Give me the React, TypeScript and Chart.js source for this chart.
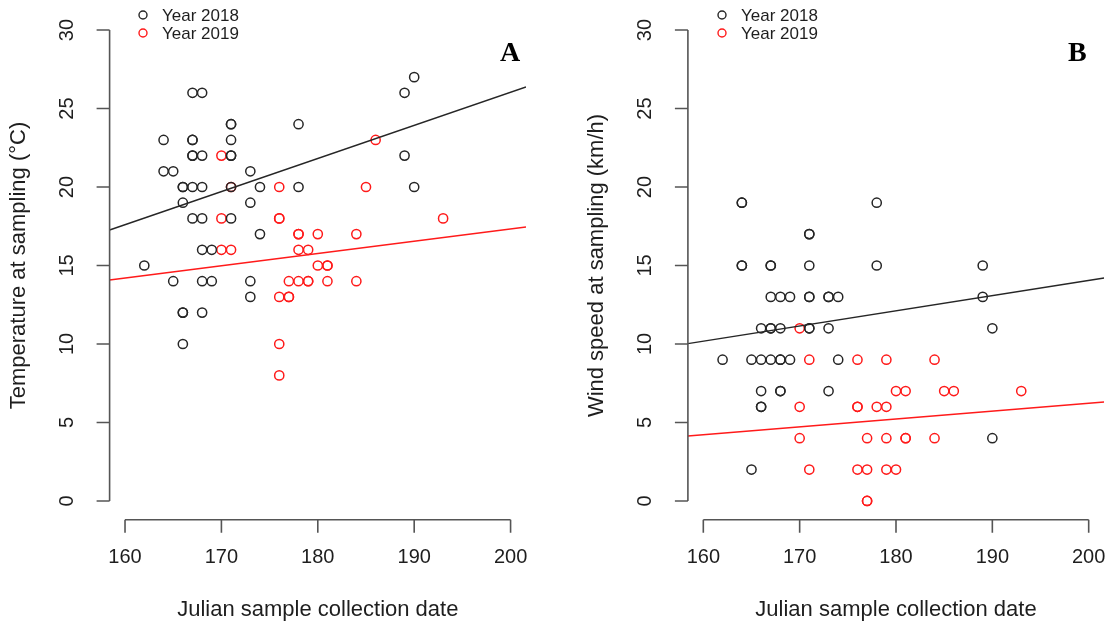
import React, { useEffect, useRef } from "react";
import { Chart, registerables } from "chart.js";
Chart.register(...registerables);

// ---------- data ----------
const xTicks = [160, 170, 180, 190, 200];
const yTicks = [0, 5, 10, 15, 20, 25, 30];
const xRange = [158.4, 201.6];
const yRange = [-1.2, 31.2];
const fitX = [158.4, 201.6];

const tempDays2018 = [190, 167, 168, 189, 171, 171, 178, 164, 167, 167, 171, 167, 167, 168, 171, 171, 189, 164, 165, 173, 166, 166, 167, 168, 171, 174, 178, 190, 166, 173, 167, 168, 171, 174, 168, 169, 162, 165, 168, 169, 173, 173, 166, 166, 168, 166];
const temp2018 = [27, 26, 26, 26, 24, 24, 24, 23, 23, 23, 23, 22, 22, 22, 22, 22, 22, 21, 21, 21, 20, 20, 20, 20, 20, 20, 20, 20, 19, 19, 18, 18, 18, 17, 16, 16, 15, 14, 14, 14, 14, 13, 12, 12, 12, 10];
const tempDays2019 = [186, 170, 171, 176, 185, 170, 176, 176, 193, 178, 178, 180, 184, 170, 171, 178, 179, 180, 181, 181, 177, 178, 179, 179, 181, 184, 176, 177, 177, 176, 176];
const temp2019 = [23, 22, 20, 20, 20, 18, 18, 18, 18, 17, 17, 17, 17, 16, 16, 16, 16, 15, 15, 15, 14, 14, 14, 14, 14, 14, 13, 13, 13, 10, 8];
const tempFit2018 = [17.26, 26.37];
const tempFit2019 = [14.08, 17.45];

const windDays2018 = [164, 164, 178, 171, 171, 164, 164, 167, 167, 171, 178, 189, 167, 168, 169, 171, 171, 173, 173, 174, 189, 166, 167, 167, 168, 171, 171, 173, 190, 162, 165, 166, 167, 168, 168, 169, 174, 166, 168, 168, 173, 166, 166, 190, 165];
const wind2018 = [19, 19, 19, 17, 17, 15, 15, 15, 15, 15, 15, 15, 13, 13, 13, 13, 13, 13, 13, 13, 13, 11, 11, 11, 11, 11, 11, 11, 11, 9, 9, 9, 9, 9, 9, 9, 9, 7, 7, 7, 7, 6, 6, 4, 2];
const windDays2019 = [170, 171, 176, 179, 184, 180, 181, 185, 186, 193, 170, 176, 176, 178, 179, 170, 177, 179, 181, 181, 184, 171, 176, 177, 179, 180, 177, 177];
const wind2019 = [11, 9, 9, 9, 9, 7, 7, 7, 7, 7, 6, 6, 6, 6, 6, 4, 4, 4, 4, 4, 4, 2, 2, 2, 2, 2, 0, 0];
const windFit2018 = [10.02, 14.2];
const windFit2019 = [4.14, 6.3];

const legendLabels = ["Year 2018", "Year 2019"];
const xTitle = "Julian sample collection date";

// ---------- styles ----------
const SANS = "'Liberation Sans', Arial, sans-serif";
const BLACK = "#262626";
const RED = "#ff1a1a";
const AXIS = "#555555";
const TEXT = "#1e1e1e";

const zip = (xs: number[], ys: number[]) => xs.map((x, i) => ({ x, y: ys[i] }));

type PanelProps = {
  left: number;
  width: number;
  padLeft: number;
  padRight: number;
  days2018: number[];
  vals2018: number[];
  days2019: number[];
  vals2019: number[];
  fit2018: number[];
  fit2019: number[];
  yTitle: string;
  letter: string;
  letterX: number;
  legendX: number;
};

function Panel(p: PanelProps) {
  const ref = useRef<HTMLCanvasElement | null>(null);
  useEffect(() => {
    if (!ref.current) return;
    const axesPlugin = {
      id: "rAxes",
      afterDraw(chart: any) {
        const { ctx, chartArea, scales } = chart;
        const xs = scales.x;
        const ys = scales.y;
        ctx.save();
        ctx.strokeStyle = AXIS;
        ctx.lineWidth = 1.6;
        ctx.lineCap = "butt";
        // x axis
        const by = chartArea.bottom;
        const x0 = xs.getPixelForValue(xTicks[0]);
        const x1 = xs.getPixelForValue(xTicks[xTicks.length - 1]);
        ctx.beginPath();
        ctx.moveTo(x0, by);
        ctx.lineTo(x1, by);
        xTicks.forEach((t) => {
          const px = xs.getPixelForValue(t);
          ctx.moveTo(px, by);
          ctx.lineTo(px, by + 13);
        });
        ctx.stroke();
        // y axis
        const lx = chartArea.left;
        const y0 = ys.getPixelForValue(yTicks[0]);
        const y1 = ys.getPixelForValue(yTicks[yTicks.length - 1]);
        ctx.beginPath();
        ctx.moveTo(lx, y0);
        ctx.lineTo(lx, y1);
        yTicks.forEach((t) => {
          const py = ys.getPixelForValue(t);
          ctx.moveTo(lx, py);
          ctx.lineTo(lx - 13, py);
        });
        ctx.stroke();

        ctx.fillStyle = TEXT;
        ctx.font = `20px ${SANS}`;
        ctx.textAlign = "center";
        ctx.textBaseline = "middle";
        xTicks.forEach((t) => {
          ctx.fillText(String(t), xs.getPixelForValue(t), by + 38);
        });
        yTicks.forEach((t) => {
          ctx.save();
          ctx.translate(lx - 42, ys.getPixelForValue(t));
          ctx.rotate(-Math.PI / 2);
          ctx.fillText(String(t), 0, 0);
          ctx.restore();
        });
        // titles
        ctx.font = `22px ${SANS}`;
        ctx.fillText(xTitle, (chartArea.left + chartArea.right) / 2, by + 90);
        ctx.save();
        ctx.translate(lx - 91, (chartArea.top + chartArea.bottom) / 2);
        ctx.rotate(-Math.PI / 2);
        ctx.fillText(p.yTitle, 0, 0);
        ctx.restore();

        // legend
        ctx.font = `17px ${SANS}`;
        ctx.textAlign = "left";
        [BLACK, RED].forEach((c, i) => {
          const cy = 15 + i * 18;
          ctx.beginPath();
          ctx.strokeStyle = c;
          ctx.lineWidth = 1.4;
          ctx.arc(p.legendX, cy, 4, 0, Math.PI * 2);
          ctx.stroke();
          ctx.fillStyle = TEXT;
          ctx.fillText(legendLabels[i], p.legendX + 19, cy + 1);
        });

        // panel letter
        ctx.font = `bold 28px 'Liberation Serif', 'Times New Roman', serif`;
        ctx.textBaseline = "alphabetic";
        ctx.fillStyle = "#000";
        ctx.fillText(p.letter, p.letterX, 61);
        ctx.restore();
      },
    };

    const ptStyle = (c: string) => ({
      showLine: false,
      pointRadius: 4.6,
      pointHoverRadius: 4.6,
      pointBorderWidth: 1.5,
      pointBackgroundColor: "rgba(0,0,0,0)",
      borderColor: c,
      pointBorderColor: c,
      backgroundColor: "rgba(0,0,0,0)",
    });
    const lineStyle = (c: string) => ({
      showLine: true,
      borderColor: c,
      borderWidth: 1.4,
      pointRadius: 0,
      fill: false,
    });

    const chart = new Chart(ref.current, {
      type: "scatter",
      data: {
        datasets: [
          { label: "fit2018", data: zip(fitX, p.fit2018), ...lineStyle(BLACK) },
          { label: "fit2019", data: zip(fitX, p.fit2019), ...lineStyle(RED) },
          { label: legendLabels[0], data: zip(p.days2018, p.vals2018), ...ptStyle(BLACK) },
          { label: legendLabels[1], data: zip(p.days2019, p.vals2019), ...ptStyle(RED) },
        ],
      } as any,
      options: {
        responsive: false,
        animation: false,
        events: [],
        layout: { padding: { left: p.padLeft, right: p.padRight, top: 11.2, bottom: 111.2 } },
        plugins: { legend: { display: false }, tooltip: { enabled: false } },
        scales: {
          x: { type: "linear", min: xRange[0], max: xRange[1], display: false },
          y: { type: "linear", min: yRange[0], max: yRange[1], display: false },
        },
      },
      plugins: [axesPlugin],
    });
    return () => chart.destroy();
  }, []);
  return (
    <canvas
      ref={ref}
      width={p.width}
      height={631}
      style={{ position: "absolute", left: p.left, top: 0, width: p.width, height: 631 }}
    />
  );
}

export default function App() {
  return (
    <div style={{ position: "fixed", left: 0, top: 0, width: 1113, height: 631, background: "#fff", overflow: "hidden" }}>
      <Panel
        left={0}
        width={556}
        padLeft={109.6}
        padRight={30}
        days2018={tempDays2018}
        vals2018={temp2018}
        days2019={tempDays2019}
        vals2019={temp2019}
        fit2018={tempFit2018}
        fit2019={tempFit2019}
        yTitle="Temperature at sampling (°C)"
        letter="A"
        letterX={500}
        legendX={143}
      />
      <Panel
        left={560}
        width={553}
        padLeft={127.9}
        padRight={8.9}
        days2018={windDays2018}
        vals2018={wind2018}
        days2019={windDays2019}
        vals2019={wind2019}
        fit2018={windFit2018}
        fit2019={windFit2019}
        yTitle="Wind speed at sampling (km/h)"
        letter="B"
        letterX={1068 - 560}
        legendX={722 - 560}
      />
    </div>
  );
}
